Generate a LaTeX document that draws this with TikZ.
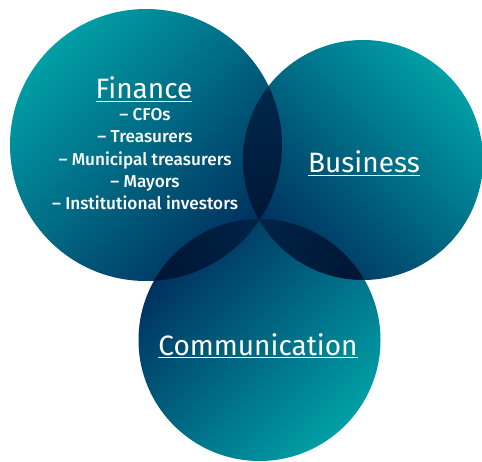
\documentclass[tikz,border=0pt]{standalone}
\usepackage{fontspec}
\setmainfont{Fira Sans}
\newfontfamily\itemfont{Fira Sans}[UprightFont={* Medium}]
\begin{document}
\begin{tikzpicture}[x=1pt,y=1pt,
  title/.style={text=white,font=\fontsize{28}{33}\selectfont,inner sep=0pt,anchor=base},
  entry/.style={text=white,font=\itemfont\fontsize{17.2}{20}\selectfont,inner sep=0pt,anchor=base}]
\definecolor{tealc}{HTML}{009FA6}
\definecolor{navyc}{HTML}{002F5E}
\definecolor{lensA}{HTML}{002D54}
\definecolor{lensB}{HTML}{00102C}
\useasboundingbox (0,0) rectangle (482,461);
% circle centres and radii
\coordinate (cf) at (146,316);
\coordinate (cb) at (363,301);
\coordinate (cc) at (259.5,121);
\def\rf{136}\def\rb{120}\def\rc{121}
% three shaded circles
\shade[top color=tealc,bottom color=navyc,shading angle=45] (cf) circle[radius=\rf];
\shade[top color=tealc,bottom color=navyc,shading angle=-45] (cb) circle[radius=\rb];
\shade[top color=navyc,bottom color=tealc,shading angle=45] (cc) circle[radius=\rc];
% dark overlaps
\begin{scope}
  \clip (cf) circle[radius=\rf];
  \shade[top color=lensA,bottom color=lensB] (cb) circle[radius=\rb];
\end{scope}
\begin{scope}
  \clip (cf) circle[radius=\rf];
  \shade[top color=lensA,bottom color=lensB,shading angle=-70] (cc) circle[radius=\rc];
\end{scope}
\begin{scope}
  \clip (cb) circle[radius=\rb];
  \shade[top color=lensA,bottom color=lensB,shading angle=70] (cc) circle[radius=\rc];
\end{scope}
% labels
\node[title] (fin) at (144,362) {\underline{Finance}};
\node[entry] (f1) at (145,340) {– CFOs};
\node[entry] (f2) at (145,318) {– Treasurers};
\node[entry] (f3) at (145,295) {– Municipal treasurers};
\node[entry] (f4) at (145,273) {– Mayors};
\node[entry] (f5) at (145,251) {– Institutional investors};
\node[title] (bus) at (364,288) {\underline{Business}};
\node[title] (com) at (258,106) {\underline{Communication}};
\end{tikzpicture}
\end{document}
